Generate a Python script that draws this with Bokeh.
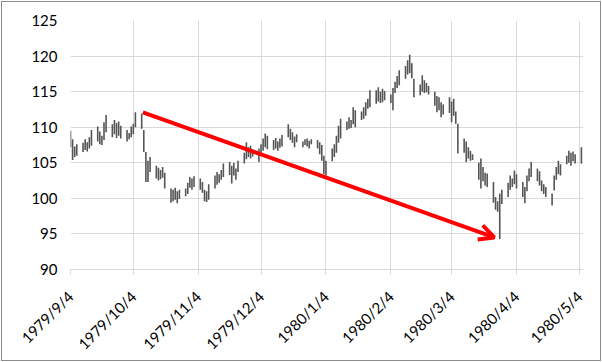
import pandas as pd
from bokeh.plotting import figure
from bokeh.models import Arrow, OpenHead, FixedTicker, Range1d, ColumnDataSource
from bokeh.embed import file_html
from bokeh.resources import INLINE

# ---- data ----
first_day = "1979-09-04"
last_day = "1980-05-05"

highs = [
    109.5, 108.3, 107.3, 107.6,
    107.8, 108.3, 107.9, 108.6, 109.6,
    110.1, 109.4, 108.8, 110.7, 111.7,
    110.4, 111.0, 110.6, 110.8, 110.2,
    109.6, 109.2, 110.1, 110.5, 112.1,
    111.9, 109.6, 106.5, 105.3, 105.8,
    104.6, 104.3, 104.0, 104.4, 103.6,
    101.4, 101.2, 101.5, 101.0, 101.2,
    101.4, 102.2, 103.0, 102.8, 103.1,
    102.8, 102.3, 101.2, 101.0, 102.0,
    103.2, 103.7, 103.4, 104.0, 104.9,
    105.1, 104.6, 105.0, 104.2, 105.3,
    106.4, 107.9, 107.2, 107.4, 106.9,
    107.0, 107.6, 108.4, 109.1, 108.8,
    108.2, 108.5, 108.0, 108.4, 108.9,
    110.4, 109.8, 109.3, 108.7, 109.0,
    108.0, 108.3, 108.4, 108.1, 108.3,
    108.2, 107.9, 107.5, 106.0, 105.3,
    107.0, 107.6, 108.8, 110.2, 111.2,
    110.8, 111.4, 111.0, 112.8, 112.4,
    112.2, 112.8, 113.5, 114.0, 115.2,
    115.2, 115.6, 115.0, 115.4, 115.1,
    114.6, 115.5, 116.4, 117.2, 118.0,
    118.6, 119.4, 120.2, 119.0, 116.8,
    116.0, 117.3, 116.6, 116.2, 115.8,
    115.0, 114.4, 114.2, 113.5, 113.2,
    114.2, 113.6, 114.0, 112.2, 110.5,
    108.4, 108.0, 107.2, 106.7, 106.2,
    105.0, 105.6, 104.4, 103.6, 103.5,
    102.3, 100.2, 99.6, 100.7, 101.2,
    102.2, 103.2, 102.8, 103.9, 103.4,
    102.3, 101.6, 103.2, 104.2, 105.1,
    104.2, 103.8, 102.5, 102.0, 101.6,
    100.7, 103.2, 104.4, 105.3, 104.8,
    106.0, 106.7, 106.4, 106.6, 106.2,
    107.2,
]

lows = [
    107.2, 105.4, 105.8, 106.0,
    106.5, 106.8, 106.6, 107.0, 107.4,
    108.0, 107.6, 107.5, 108.2, 109.3,
    108.6, 109.0, 108.5, 108.8, 108.4,
    108.0, 108.3, 108.6, 109.0, 110.0,
    109.8, 106.5, 102.3, 102.3, 103.7,
    102.8, 102.5, 102.7, 102.9, 101.4,
    99.4, 99.6, 99.8, 99.3, 99.9,
    100.3, 100.6, 101.5, 101.2, 101.6,
    101.2, 100.8, 99.6, 99.5, 99.8,
    101.4, 101.9, 102.2, 102.6, 103.0,
    103.3, 102.1, 103.2, 102.6, 103.7,
    104.9, 105.5, 105.8, 105.6, 105.9,
    105.1, 106.2, 106.7, 107.2, 106.9,
    106.8, 107.0, 106.7, 107.1, 107.3,
    108.6, 108.2, 107.8, 107.2, 107.9,
    107.2, 107.5, 107.3, 107.0, 107.6,
    107.0, 106.2, 105.3, 103.4, 103.2,
    105.2, 105.8, 106.4, 107.8, 108.4,
    109.6, 109.8, 109.9, 110.4, 110.0,
    111.0, 111.2, 111.6, 112.6, 112.8,
    113.3, 113.6, 113.4, 113.5, 113.8,
    113.4, 112.4, 114.8, 115.5, 115.9,
    116.8, 117.4, 117.6, 116.9, 114.2,
    114.5, 115.0, 114.8, 114.9, 114.6,
    113.0, 112.1, 112.4, 111.4, 111.8,
    112.0, 110.7, 111.6, 110.5, 106.3,
    106.4, 105.1, 105.6, 105.3, 105.4,
    102.6, 101.4, 102.4, 101.8, 101.6,
    99.4, 98.4, 98.1, 94.3, 99.2,
    100.2, 101.2, 101.6, 102.0, 101.4,
    100.2, 99.3, 101.0, 102.4, 103.0,
    102.4, 101.8, 101.0, 100.6, 100.2,
    99.0, 101.1, 102.6, 103.4, 103.2,
    104.8, 105.0, 104.6, 105.2, 104.9,
    104.9,
]

tick_dates = ["1979-09-04", "1979-10-04", "1979-11-04", "1979-12-04",
              "1980-01-04", "1980-02-04", "1980-03-04", "1980-04-04", "1980-05-04"]
tick_labels = ["1979/9/4", "1979/10/4", "1979/11/4", "1979/12/4",
               "1980/1/4", "1980/2/4", "1980/3/4", "1980/4/4", "1980/5/4"]
y_ticks = [90, 95, 100, 105, 110, 115, 120, 125]

arrow_start = ("1979-10-08 14:00", 112.1)
arrow_end = ("1980-03-24 10:00", 94.5)

axis_start = "1979-09-04"
axis_end = "1980-05-06"


def ms(s):
    return int(pd.Timestamp(s).value // 10**6)


dates = pd.bdate_range(first_day, last_day)
n = min(len(dates), len(highs), len(lows))
source = ColumnDataSource(dict(date=list(dates[:n]), high=highs[:n], low=lows[:n]))

FONT = "Lato"
GRID = "#d9d9d9"

p = figure(width=602, height=362, x_axis_type="datetime",
           output_backend="svg", toolbar_location=None,
           x_range=Range1d(ms(axis_start), ms(axis_end)),
           y_range=Range1d(90, 125),
           min_border_left=70, min_border_right=19,
           min_border_top=20, min_border_bottom=93)
# thin grey chart-area border (drawn by the page behind a transparent canvas border)
p.styles = {"background-color": "white",
            "box-shadow": "inset 0 0 0 1px white, inset 0 0 0 2px #8c8c8c"}
p.outline_line_color = None
p.background_fill_color = "white"
p.border_fill_color = None

p.segment(x0="date", y0="low", x1="date", y1="high", source=source,
          line_color="#555555", line_width=1.6)

arrow = Arrow(x_start=ms(arrow_start[0]), y_start=arrow_start[1],
              x_end=ms(arrow_end[0]), y_end=arrow_end[1],
              line_color="#ff0000", line_width=4,
              end=OpenHead(size=15, line_color="#ff0000", line_width=4))
p.add_layout(arrow)

tick_ms = [ms(d) for d in tick_dates]
p.xaxis.ticker = FixedTicker(ticks=tick_ms)
p.xaxis.major_label_overrides = {t: l for t, l in zip(tick_ms, tick_labels)}
p.xaxis.major_label_orientation = 0.785398
p.xaxis.axis_line_color = GRID
p.xaxis.major_tick_line_color = GRID
p.xaxis.major_tick_in = 0
p.xaxis.major_tick_out = 5
p.xaxis.minor_tick_line_color = None
p.xaxis.major_label_standoff = 19

p.yaxis.ticker = FixedTicker(ticks=y_ticks)
p.yaxis.axis_line_color = None
p.yaxis.major_tick_line_color = None
p.yaxis.minor_tick_line_color = None
p.yaxis.major_label_standoff = 7

for ax in (p.xaxis, p.yaxis):
    ax.major_label_text_font = FONT
    ax.major_label_text_font_size = "15px"
    ax.major_label_text_color = "#000000"

p.xgrid.ticker = FixedTicker(ticks=tick_ms)
p.ygrid.ticker = FixedTicker(ticks=y_ticks)
p.xgrid.grid_line_color = GRID
p.ygrid.grid_line_color = GRID

open("out.html", "w").write(file_html(p, INLINE))
